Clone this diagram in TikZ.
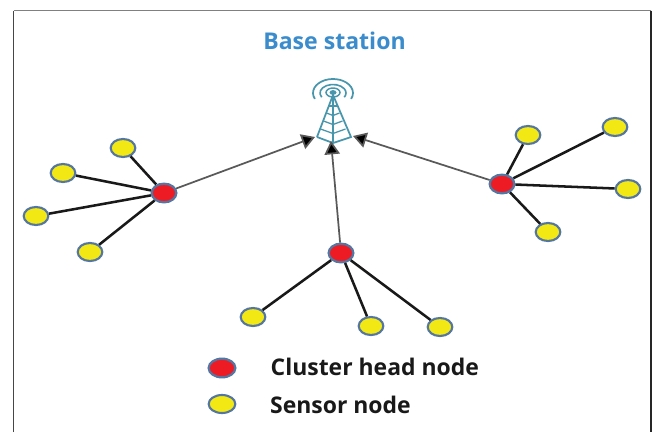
\documentclass[tikz,border=0pt]{standalone}
\usepackage{fontspec}
\setmainfont{Open Sans}
\usetikzlibrary{arrows.meta,shapes.geometric}
\definecolor{nodeedge}{RGB}{84,118,160}
\definecolor{headred}{RGB}{237,28,36}
\definecolor{sensoryellow}{RGB}{242,232,20}
\definecolor{towerteal}{RGB}{72,150,172}
\definecolor{titleblue}{RGB}{58,140,205}
\definecolor{framegray}{RGB}{70,70,70}
\tikzset{
  headnode/.style={ellipse,draw=nodeedge,line width=1.7pt,fill=headred,minimum width=18.5pt,minimum height=14pt,inner sep=0pt},
  sensornode/.style={ellipse,draw=nodeedge,line width=1.6pt,fill=sensoryellow,minimum width=18.5pt,minimum height=13.5pt,inner sep=0pt},
  memberlink/.style={line width=1.9pt,black!90},
  uplink/.style={line width=1.3pt,draw=black!65,-{Triangle[length=10pt,width=11.5pt,fill=black]}},
  towerline/.style={draw=towerteal,line width=0.95pt},
  legendtext/.style={font=\bfseries\fontsize{17.2}{20}\selectfont,anchor=west,text=black!90},
}
\begin{document}
\begin{tikzpicture}[x=0.75pt,y=-0.75pt]
\useasboundingbox (0,0) rectangle (653,432);
\fill[white] (0,0) rectangle (653,432);
\draw[framegray,line width=0.9pt] (13.5,432) -- (13.5,10.5);
\draw[black!50,line width=0.9pt] (13.5,10.5) -- (651,10.5);
\draw[black!85,line width=0.9pt] (651,10.5) -- (651,432);

\node[font=\bfseries\fontsize{17.3}{20}\selectfont,text=titleblue] (title) at (334.5,41) {Base station};

% tower
\coordinate (apex) at (333,95);
\coordinate (baseL) at (317,137);
\coordinate (baseR) at (351,137);
\coordinate (baseC) at (333,143);
\draw[towerline,line width=1.3pt] (baseL) -- (apex) -- (baseR) -- (baseC) -- (baseL);
\draw[towerline] (apex) -- (baseC);
\draw[towerline] (329,106) -- (337,106);
\draw[towerline] (326.5,113) -- (333,115.5) -- (339.5,113);
\draw[towerline] (323.5,121) -- (333,124.5) -- (342.5,121);
\draw[towerline] (320.5,129) -- (333,133.5) -- (345.5,129);
\draw[towerline,line width=1.1pt] (333,92.5) ellipse[x radius=7,y radius=4.5];
\fill[towerteal] (333,92.5) ellipse[x radius=3.5,y radius=2.4];
\draw[towerline,line width=1.2pt,shift={(333,93)}] (150:13 and 8.5) arc[start angle=150,end angle=390,x radius=13,y radius=8.5];
\draw[towerline,line width=1.3pt,shift={(333,93)}] (155:20 and 14) arc[start angle=155,end angle=385,x radius=20,y radius=14];

\coordinate (tipL) at (315,137);
\coordinate (tipC) at (331,141);
\coordinate (tipR) at (353,136);

\node[headnode] (hl) at (164,193) {};
\node[headnode] (hc) at (341,253) {};
\node[headnode] (hr) at (502,184) {};

\node[sensornode] (l1) at (123,148) {};
\node[sensornode] (l2) at (63,173) {};
\node[sensornode] (l3) at (36,216) {};
\node[sensornode] (l4) at (90,252) {};
\node[sensornode] (c1) at (253,317) {};
\node[sensornode] (c2) at (371,326) {};
\node[sensornode] (c3) at (440,327) {};
\node[sensornode] (r1) at (528,135) {};
\node[sensornode] (r2) at (615,127) {};
\node[sensornode] (r3) at (628,189) {};
\node[sensornode] (r4) at (548,232) {};

\foreach \s/\h in {l1/hl,l2/hl,l3/hl,l4/hl,c1/hc,c2/hc,c3/hc,r1/hr,r2/hr,r3/hr,r4/hr}
  \draw[memberlink] (\s) -- (\h);

\draw[uplink] (hl) -- (tipL);
\draw[uplink] (hc) -- (tipC);
\draw[uplink] (hr) -- (tipR);

\node[headnode,minimum width=20pt,minimum height=14pt] (lh) at (222,368) {};
\node[sensornode,minimum width=20pt,minimum height=13.5pt] (ls) at (222,404) {};
\node[legendtext] (lht) at (266,367) {Cluster head node};
\node[legendtext] (lst) at (265.5,404.5) {Sensor node};
\end{tikzpicture}
\end{document}
